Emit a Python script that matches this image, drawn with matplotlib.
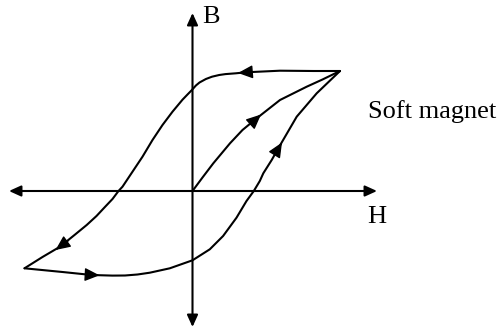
import matplotlib
matplotlib.use("Agg")
import matplotlib.pyplot as plt

# Data (H, B) in arbitrary units (origin at axes crossing)
init_H = [0, 10.0, 20.8, 37.5, 50.0, 64.2, 87.5, 114.2, 130.0, 147.5]
init_B = [0, 13.5, 27.7, 47.7, 61.0, 72.7, 91.0, 104.3, 111.5, 120.0]

desc_H = [147.5, 120.8, 87.5, 53.4, 43.4, 33.0, 26.7, 19.5, 13.4, 7.0, 3.4, -0.6, -5.0,
          -10.0, -20.0, -30.0, -40.0, -50.0, -60.0, -70.0, -74.0, -80.0, -87.3, -96.0,
          -105.8, -118.0, -132.5, -150.0, -168.0]
desc_B = [120.0, 120.0, 120.3, 118.7, 117.7, 116.9, 116.0, 114.3, 112.0, 108.5, 105.5, 101.0, 96.5,
          91.3, 79.3, 66.0, 51.0, 34.3, 19.3, 4.3, 0.0, -8.0, -15.7, -25.0,
          -34.0, -44.0, -55.7, -66.0, -77.3]

asc_H = [-168.0, -130.0, -100.8, -80.0, -67.5, -55.0, -42.7, -22.7, 0.0, 17.3, 30.6,
         44.0, 54.0, 61.3, 67.3, 70.8, 79.2, 85.8, 95.0, 104.2, 124.2, 147.5]
asc_B = [-77.3, -81.0, -84.0, -84.6, -84.5, -83.5, -81.7, -77.3, -69.3, -58.3, -45.0,
         -26.7, -10.0, 0.0, 10.0, 17.7, 31.0, 42.7, 58.5, 74.3, 97.7, 120.0]

# arrowheads on the loop: (tail, tip)
loop_arrows = [
    ((58.0, 67.0), (68.5, 76.5)),       # initial curve
    ((58.0, 119.0), (45.5, 118.0)),     # top branch going left
    ((-124.0, -49.5), (-137.0, -59.0)),  # lower-left going down
    ((-106.0, -83.6), (-93.0, -84.3)),   # bottom going right
    ((82.5, 37.0), (89.5, 48.5)),       # right branch going up
]

axis_H = (-183.5, 184.5)
axis_B = (-136.0, 178.0)

fig = plt.figure(figsize=(4.99, 3.29), dpi=100)
ax = fig.add_axes([0, 0, 1, 1])
ax.set_xlim(-192.5, 306.5)
ax.set_ylim(-138, 191)
ax.axis("off")

lw = 1.5
col = "black"

# axes with arrows
for xy, xytext in [((axis_H[1], 0), (axis_H[0], 0)), ((0, axis_B[1]), (0, axis_B[0]))]:
    ax.annotate("", xy=xy, xytext=xytext,
                arrowprops=dict(arrowstyle="<|-|>,head_length=0.55,head_width=0.25",
                                color=col, lw=lw, shrinkA=0, shrinkB=0, mutation_scale=13))

for hs, bs in [(init_H, init_B), (desc_H, desc_B), (asc_H, asc_B)]:
    ax.plot(hs, bs, color=col, lw=lw, solid_joinstyle="round", solid_capstyle="round")

for tail, tip in loop_arrows:
    ax.annotate("", xy=tip, xytext=tail,
                arrowprops=dict(arrowstyle="-|>,head_length=0.6,head_width=0.27",
                                color=col, lw=1.0, shrinkA=0, shrinkB=0, mutation_scale=15))

font = dict(family="Liberation Serif", fontsize=19, color=col)
ax.text(9.5, 168, "B", ha="left", va="baseline", **font)
ax.text(174.5, -32, "H", ha="left", va="baseline", **font)
ax.text(175.5, 73, "Soft magnet", ha="left", va="baseline", **font)

fig.savefig("out.png", dpi=100)
